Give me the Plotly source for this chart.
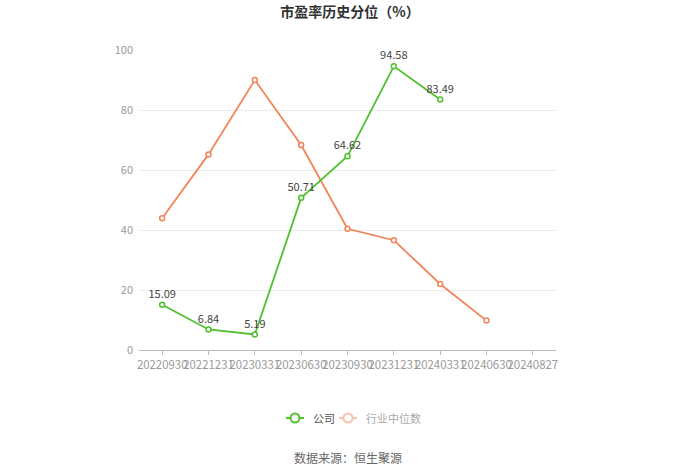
import plotly.graph_objects as go

categories = ["20220930", "20221231", "20230331", "20230630", "20230930",
              "20231231", "20240331", "20240630", "20240827"]
company = [15.09, 6.84, 5.19, 50.71, 64.62, 94.58, 83.49, None, None]
industry = [43.9, 65.2, 90.0, 68.3, 40.4, 36.6, 22.0, 9.8, None]
company_labels = ["15.09", "6.84", "5.19", "50.71", "64.62", "94.58", "83.49", "", ""]
legend_names = ["公司", "行业中位数"]

GREEN = "#52c130"
ORANGE = "#f2845a"
PALE_ORANGE = "#f7c2ad"
FONT = "Noto Sans CJK SC"

L, R, T, B = 139, 144, 50, 124
W, H = 700, 474
PW, PH = W - L - R, H - T - B


def px(x):
    return (x - L) / PW


def py(y):
    return (H - B - y) / PH


fig = go.Figure()
fig.add_trace(go.Scatter(
    x=categories, y=industry, mode="lines+markers", name=legend_names[1],
    line=dict(color=ORANGE, width=1.8),
    marker=dict(symbol="circle", size=5, color="white", line=dict(color=ORANGE, width=1.5)),
    showlegend=False, cliponaxis=False))
fig.add_trace(go.Scatter(
    x=categories, y=company, mode="lines+markers+text", name=legend_names[0],
    text=company_labels, textposition="top center",
    textfont=dict(family=FONT, size=11, color="#444"),
    line=dict(color=GREEN, width=1.8),
    marker=dict(symbol="circle", size=5, color="white", line=dict(color=GREEN, width=1.5)),
    showlegend=False, cliponaxis=False))

# manual legend
shapes = []
annotations = []
ly = 418
for (x0, x1, cx, tx, col, tcol, name) in [
        (286, 304, 295, 311, GREEN, "#555", legend_names[0]),
        (339, 357, 348, 364, PALE_ORANGE, "#aaa", legend_names[1])]:
    shapes.append(dict(type="line", xref="paper", yref="paper",
                       x0=px(x0), x1=px(x1), y0=py(ly), y1=py(ly),
                       line=dict(color=col, width=2)))
    shapes.append(dict(type="circle", xref="paper", yref="paper",
                       x0=px(cx - 4.5), x1=px(cx + 4.5), y0=py(ly + 4.5), y1=py(ly - 4.5),
                       fillcolor="white", line=dict(color=col, width=2)))
    annotations.append(dict(text=name, xref="paper", yref="paper", x=px(tx), y=py(ly),
                             xanchor="left", yanchor="middle", showarrow=False,
                             font=dict(family=FONT, size=11, color=tcol)))

annotations.append(dict(text="数据来源：恒生聚源", x=0.5, xref="paper", y=py(458),
                        yref="paper", xanchor="center", yanchor="middle",
                        showarrow=False, font=dict(family=FONT, size=12, color="#666")))

fig.update_layout(
    width=W, height=H,
    margin=dict(l=L, r=R, t=T, b=B),
    paper_bgcolor="white", plot_bgcolor="white",
    font=dict(family=FONT, color="#999"),
    showlegend=False,
    title=dict(text="<b>市盈率历史分位（%）</b>", x=0.5, xanchor="center",
               y=1 - 12 / H, yanchor="middle",
               font=dict(family=FONT, size=14, color="#333")),
    xaxis=dict(type="category", categoryorder="array", categoryarray=categories,
               range=[-0.5, 8.5], showgrid=False, showline=True, linecolor="#bbb",
               linewidth=1, ticks="outside", ticklen=4, tickcolor="#bbb",
               tickfont=dict(family=FONT, size=11.4, color="#999"), tickangle=0,
               zeroline=False, fixedrange=True),
    yaxis=dict(range=[0, 100], dtick=20, showgrid=True, gridcolor="#ececec",
               gridwidth=1, showline=False, zeroline=False, ticks="",
               tickfont=dict(family=FONT, size=11, color="#999"),
               ticksuffix="  ", fixedrange=True),
    shapes=shapes,
    annotations=annotations,
)

fig.write_html("out.html")
